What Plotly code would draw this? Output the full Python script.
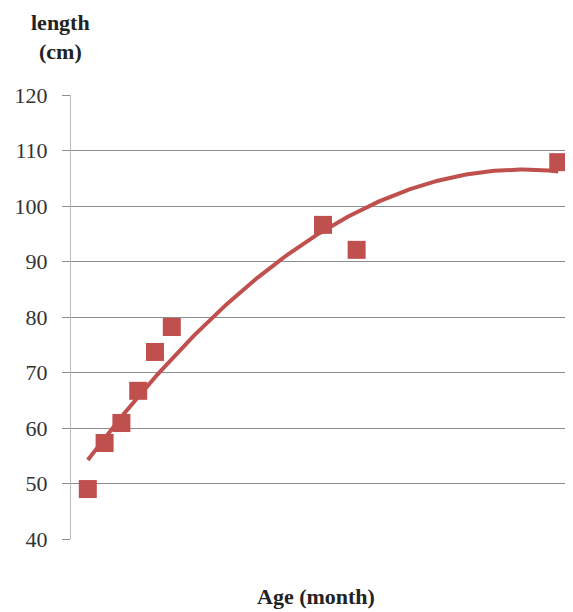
import numpy as np
import plotly.graph_objects as go

age = [1, 2, 3, 4, 5, 6, 15, 17, 29]
length = [49.0, 57.3, 60.9, 66.7, 73.7, 78.2, 96.6, 92.1, 107.9]
y_ticks = [40, 50, 60, 70, 80, 90, 100, 110, 120]

coef = np.polyfit(age, length, 2)
xt = np.linspace(min(age), max(age), 200)
yt = np.polyval(coef, xt)

red = "#C0504D"
FONT = "Liberation Serif"
# page body has an 8px margin; figure is sized/offset to compensate
W, H = 565, 604
pl, pr, pt, pb = 63, 3, 87, 73
pw, ph = W - pl - pr, H - pt - pb

fig = go.Figure()
fig.add_trace(go.Scatter(x=xt, y=yt, mode="lines", line=dict(color=red, width=4),
                         hoverinfo="skip", showlegend=False))
fig.add_trace(go.Scatter(x=age, y=length, mode="markers",
                         marker=dict(symbol="square", size=18, color=red),
                         showlegend=False))

def px_ann(text, x, y):
    return dict(text=text, x=(x - pl) / pw, y=(H - y - pb) / ph, xref="paper", yref="paper",
                xanchor="center", yanchor="middle", showarrow=False,
                font=dict(size=22, family=FONT, color="#222"))

fig.update_layout(
    width=W, height=H,
    margin=dict(l=pl, r=pr, t=pt, b=pb, autoexpand=False),
    paper_bgcolor="white", plot_bgcolor="white",
    font=dict(family=FONT, size=22, color="#333"),
    xaxis=dict(range=[0, 29.7], showgrid=False, zeroline=False, showticklabels=False,
               showline=False, ticks=""),
    yaxis=dict(range=[40, 120], tickvals=y_ticks, showgrid=True, gridcolor="#8c8c8c",
               gridwidth=1, zeroline=False, showline=True, linecolor="#bdbdbd",
               linewidth=1, ticks="outside", ticklen=8, tickcolor="#8c8c8c",
               ticklabelstandoff=10),
    annotations=[
        px_ann("<b>length</b>", 52, 14),
        px_ann("<b>(cm)</b>", 52, 44),
        px_ann("<b>Age (month)</b>", 308, 588),
    ],
)
fig.write_html("out.html")
